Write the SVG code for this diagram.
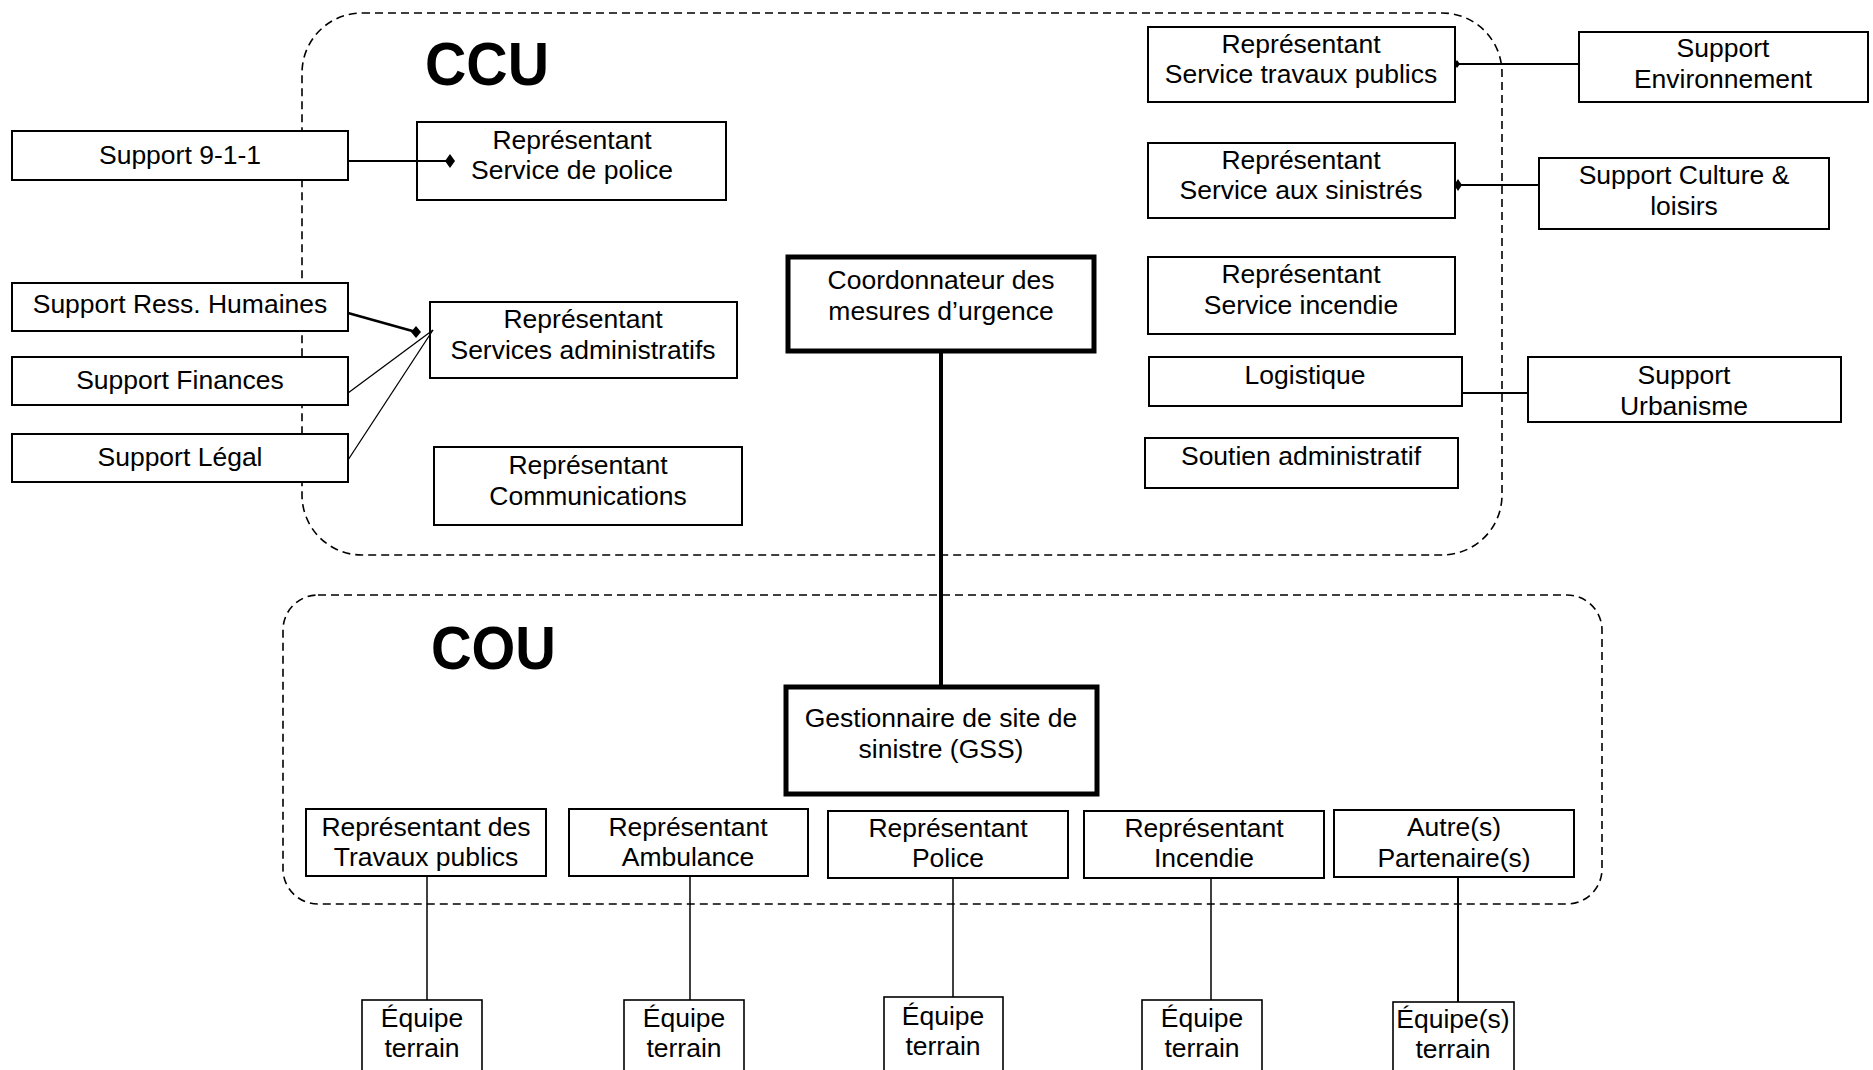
<svg xmlns="http://www.w3.org/2000/svg" width="1873" height="1070" viewBox="0 0 1873 1070">
<style>
  .bg { fill: #ffffff; }
  .zone { fill: none; stroke: #000; stroke-width: 1.6; stroke-dasharray: 8 5; }
  .box { fill: #fff; stroke: #000; stroke-width: 2; }
  .thick { fill: #fff; stroke: #000; stroke-width: 5; }
  .team { fill: #fff; stroke: #000; stroke-width: 1.6; }
  .t { font-family: "Liberation Sans", Arial, sans-serif; font-size: 26.5px; fill: #000; text-anchor: middle; }
  .title { font-family: "Liberation Sans", Arial, sans-serif; font-size: 62px; font-weight: bold; fill: #000; }
  .ln { stroke: #000; fill: none; }
  .dia { fill: #000; stroke: none; }
</style>
<rect class="bg" x="0" y="0" width="1873" height="1070"/>

<g id="zones">
  <g id="ccu">
    <rect class="zone" x="302" y="13" width="1200" height="542" rx="60" ry="60"/>
    <text class="title" x="425" y="85" textLength="124" lengthAdjust="spacingAndGlyphs">CCU</text>
  </g>
  <g id="cou">
    <rect class="zone" x="283" y="595" width="1319" height="309" rx="35" ry="35"/>
    <text class="title" x="431" y="669" textLength="125" lengthAdjust="spacingAndGlyphs">COU</text>
  </g>
</g>

<g id="nodes">
  <g id="sup911"><rect class="box" x="12" y="131" width="336" height="49"/><text class="t" x="180" y="164">Support 9-1-1</text></g>
  <g id="police"><rect class="box" x="417" y="122" width="309" height="78"/><text class="t" x="572" y="149">Représentant</text><text class="t" x="572" y="179">Service de police</text></g>
  <g id="supRH"><rect class="box" x="12" y="283" width="336" height="48"/><text class="t" x="180" y="313">Support Ress. Humaines</text></g>
  <g id="supFin"><rect class="box" x="12" y="357" width="336" height="48"/><text class="t" x="180" y="389">Support Finances</text></g>
  <g id="supLegal"><rect class="box" x="12" y="434" width="336" height="48"/><text class="t" x="180" y="466">Support Légal</text></g>
  <g id="admin"><rect class="box" x="430" y="302" width="307" height="76"/><text class="t" x="583" y="328">Représentant</text><text class="t" x="583" y="359">Services administratifs</text></g>
  <g id="comm"><rect class="box" x="434" y="447" width="308" height="78"/><text class="t" x="588" y="474">Représentant</text><text class="t" x="588" y="505">Communications</text></g>
  <g id="coord"><rect class="thick" x="788" y="257" width="306" height="94"/><text class="t" x="941" y="289">Coordonnateur des</text><text class="t" x="941" y="320">mesures d’urgence</text></g>
  <g id="travaux"><rect class="box" x="1148" y="27" width="307" height="75"/><text class="t" x="1301" y="53">Représentant</text><text class="t" x="1301" y="83">Service travaux publics</text></g>
  <g id="env"><rect class="box" x="1579" y="32" width="289" height="70"/><text class="t" x="1723" y="57">Support</text><text class="t" x="1723" y="88">Environnement</text></g>
  <g id="sinistres"><rect class="box" x="1148" y="143" width="307" height="75"/><text class="t" x="1301" y="169">Représentant</text><text class="t" x="1301" y="199">Service aux sinistrés</text></g>
  <g id="culture"><rect class="box" x="1539" y="158" width="290" height="71"/><text class="t" x="1684" y="184">Support Culture &amp;</text><text class="t" x="1684" y="215">loisirs</text></g>
  <g id="incendie"><rect class="box" x="1148" y="257" width="307" height="77"/><text class="t" x="1301" y="283">Représentant</text><text class="t" x="1301" y="314">Service incendie</text></g>
  <g id="logistique"><rect class="box" x="1149" y="357" width="313" height="49"/><text class="t" x="1305" y="384">Logistique</text></g>
  <g id="urbanisme"><rect class="box" x="1528" y="357" width="313" height="65"/><text class="t" x="1684" y="384">Support</text><text class="t" x="1684" y="415">Urbanisme</text></g>
  <g id="soutien"><rect class="box" x="1145" y="438" width="313" height="50"/><text class="t" x="1301" y="465">Soutien administratif</text></g>

  <g id="gss"><rect class="thick" x="786" y="687" width="311" height="107"/><text class="t" x="941" y="727">Gestionnaire de site de</text><text class="t" x="941" y="758">sinistre (GSS)</text></g>
  <g id="repTP"><rect class="box" x="306" y="809" width="240" height="67"/><text class="t" x="426" y="836">Représentant des</text><text class="t" x="426" y="866">Travaux publics</text></g>
  <g id="repAmb"><rect class="box" x="569" y="809" width="239" height="67"/><text class="t" x="688" y="836">Représentant</text><text class="t" x="688" y="866">Ambulance</text></g>
  <g id="repPol"><rect class="box" x="828" y="811" width="240" height="67"/><text class="t" x="948" y="837">Représentant</text><text class="t" x="948" y="867">Police</text></g>
  <g id="repInc"><rect class="box" x="1084" y="811" width="240" height="67"/><text class="t" x="1204" y="837">Représentant</text><text class="t" x="1204" y="867">Incendie</text></g>
  <g id="autres"><rect class="box" x="1334" y="810" width="240" height="67"/><text class="t" x="1454" y="836">Autre(s)</text><text class="t" x="1454" y="867">Partenaire(s)</text></g>

  <g id="eq1"><rect class="team" x="362" y="1000" width="120" height="80"/><text class="t" x="422" y="1027">Équipe</text><text class="t" x="422" y="1057">terrain</text></g>
  <g id="eq2"><rect class="team" x="624" y="1000" width="120" height="80"/><text class="t" x="684" y="1027">Équipe</text><text class="t" x="684" y="1057">terrain</text></g>
  <g id="eq3"><rect class="team" x="884" y="997" width="119" height="80"/><text class="t" x="943" y="1025">Équipe</text><text class="t" x="943" y="1055">terrain</text></g>
  <g id="eq4"><rect class="team" x="1142" y="1000" width="120" height="80"/><text class="t" x="1202" y="1027">Équipe</text><text class="t" x="1202" y="1057">terrain</text></g>
  <g id="eq5"><rect class="team" x="1393" y="1002" width="121" height="80"/><text class="t" x="1453" y="1028">Équipe(s)</text><text class="t" x="1453" y="1058">terrain</text></g>
</g>

<g id="connectors">
  <line class="ln" x1="348" y1="161" x2="447" y2="161" stroke-width="2"/>
  <polygon class="dia" points="450,154 455,161 450,168 445,161"/>
  <line class="ln" x1="348" y1="313" x2="416" y2="332" stroke-width="2.5"/>
  <polygon class="dia" points="416,326 421,332 416,338 411,332"/>
  <line class="ln" x1="348" y1="393" x2="433" y2="330" stroke-width="1.3"/>
  <line class="ln" x1="348" y1="460" x2="433" y2="330" stroke-width="1.3"/>
  <line class="ln" x1="1455" y1="64" x2="1579" y2="64" stroke-width="2"/>
  <polygon class="dia" points="1457,60 1460,64 1457,68 1454,64"/>
  <line class="ln" x1="1455" y1="185" x2="1539" y2="185" stroke-width="2"/>
  <polygon class="dia" points="1458,179 1462,185 1458,191 1454,185"/>
  <line class="ln" x1="1462" y1="393" x2="1528" y2="393" stroke-width="2"/>
  <line class="ln" x1="941" y1="353" x2="941" y2="685" stroke-width="4"/>
  <line class="ln" x1="427" y1="876" x2="427" y2="1000" stroke-width="1.5"/>
  <line class="ln" x1="690" y1="877" x2="690" y2="1000" stroke-width="1.5"/>
  <line class="ln" x1="953" y1="878" x2="953" y2="997" stroke-width="1.5"/>
  <line class="ln" x1="1211" y1="878" x2="1211" y2="1000" stroke-width="1.5"/>
  <line class="ln" x1="1458" y1="877" x2="1458" y2="1002" stroke-width="2"/>
</g>
</svg>
